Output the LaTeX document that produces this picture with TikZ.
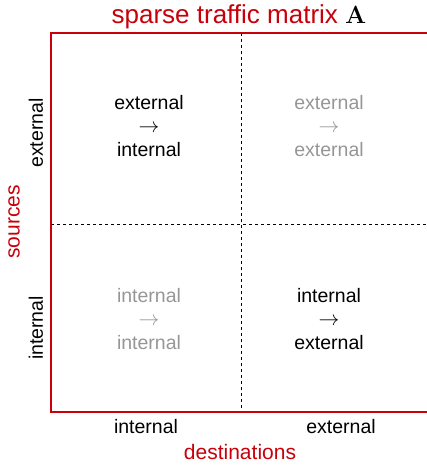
\documentclass[tikz,border=0pt]{standalone}
\usepackage[no-math]{fontspec}
\setmainfont{Liberation Sans}
\usetikzlibrary{positioning}
\definecolor{matred}{RGB}{200,0,10}
\definecolor{faded}{RGB}{150,150,150}
\newcommand{\flowto}[0]{$\rightarrow$}

\begin{document}
\begin{tikzpicture}[x=1pt,y=-1pt]
\tikzstyle{cell}=[align=center,inner sep=0pt,font=\fontsize{19.5}{23.5}\selectfont]
\tikzstyle{tick}=[inner sep=0pt,font=\fontsize{19.5}{23.5}\selectfont]
\tikzstyle{axis}=[inner sep=0pt,text=matred,font=\fontsize{21}{25}\selectfont]
\tikzstyle{split}=[dashed,line width=0.8pt]
\useasboundingbox (0,0) rectangle (427,466);

% frame of the matrix
\coordinate (nw) at (51,33);
\coordinate (se) at (431,412);
\coordinate (top) at (241,33);
\coordinate (bot) at (241,412);
\coordinate (lft) at (51,224);
\coordinate (rgt) at (431,224);

\draw[split] (top) -- (bot);
\draw[split] (lft) -- (rgt);
\draw[matred,line width=2pt] (nw) rectangle (se);

\node[inner sep=0pt,text=matred,font=\fontsize{26}{30}\selectfont] (title) at (239,17) {sparse traffic matrix \textcolor{black}{$\mathbf{A}$}};

% the four blocks
\node[cell] (extint) at (149,126) {external\\\flowto\\internal};
\node[cell,text=faded] (extext) at (329,126) {external\\\flowto\\external};
\node[cell,text=faded] (intint) at (149,319) {internal\\\flowto\\internal};
\node[cell] (intext) at (329,319) {internal\\\flowto\\external};

% rows and columns
\node[tick,rotate=90] (srcext) at (36,133) {external};
\node[tick,rotate=90] (srcint) at (36,328) {internal};
\node[axis,rotate=90] (sources) at (14,222) {sources};
\node[tick] (dstint) at (146,427) {internal};
\node[tick] (dstext) at (341,427) {external};
\node[axis] (destinations) at (240,452) {destinations};
\end{tikzpicture}
\end{document}
